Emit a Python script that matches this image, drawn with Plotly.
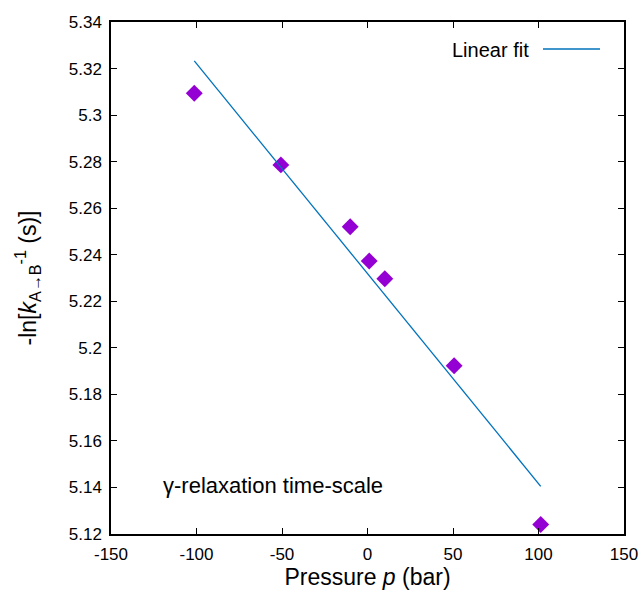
import plotly.graph_objects as go

# Data
pressure_bar = [-101.3, -50.66, -10.13, 1.013, 10.13, 50.66, 101.3]
neg_ln_k = [5.3094, 5.2786, 5.2520, 5.2373, 5.2297, 5.1923, 5.1241]

fit_x = [-101.3, 101.3]
fit_y = [5.3233, 5.1405]

x_ticks = [-150, -100, -50, 0, 50, 100, 150]
y_ticks = [5.12, 5.14, 5.16, 5.18, 5.2, 5.22, 5.24, 5.26, 5.28, 5.3, 5.32, 5.34]

FONT = "Liberation Sans, Arial, Helvetica, sans-serif"

# plot area in pixels (from reference)
L, R, T, B = 111, 624, 22, 534
W, H = R - L, B - T

fig = go.Figure()
fig.add_trace(go.Scatter(
    x=pressure_bar, y=neg_ln_k, mode="markers",
    marker=dict(symbol="diamond", size=13, color="#9400d3", line=dict(width=0)),
    showlegend=False,
))
fig.add_trace(go.Scatter(
    x=fit_x, y=fit_y, mode="lines",
    line=dict(color="#0072bd", width=1.3),
    showlegend=False,
))

# gnuplot-style key: text then line sample
fig.add_annotation(
    x=(531 - L) / W, y=(B - 50) / H, xref="x domain", yref="y domain",
    text="Linear fit", showarrow=False, xanchor="right", yanchor="middle",
    font=dict(size=20, color="black", family=FONT),
)
fig.add_shape(type="line", xref="x domain", yref="y domain",
              x0=(543 - L) / W, x1=(600 - L) / W,
              y0=(B - 49) / H, y1=(B - 49) / H,
              line=dict(color="#0072bd", width=1.3))

fig.add_annotation(
    x=(161 - L) / W, y=(B - 485) / H, xref="x domain", yref="y domain",
    text="γ-relaxation time-scale", showarrow=False, xanchor="left", yanchor="middle",
    font=dict(size=22, color="black", family=FONT),
)

axis_common = dict(
    showline=True, linecolor="black", linewidth=1.5, mirror="allticks",
    ticks="inside", ticklen=6, tickwidth=1, tickcolor="black",
    showgrid=False, zeroline=False, automargin=False,
    tickfont=dict(size=17, color="black", family=FONT),
)

fig.update_xaxes(
    range=[-150, 150], tickvals=x_ticks, ticktext=[str(v) for v in x_ticks],
    ticklabelstandoff=4,
    title=dict(text="Pressure <i>p</i> (bar)", font=dict(size=23, color="black", family=FONT),
               standoff=4),
    **axis_common,
)
fig.update_yaxes(
    range=[5.12, 5.34], tickvals=y_ticks, ticktext=[f"{v:g}" for v in y_ticks],
    ticklabelstandoff=4,
    title=dict(text="-ln[<i>k</i><sub>A→B</sub><sup>-1</sup> (s)]",
               font=dict(size=23, color="black", family=FONT), standoff=26),
    **axis_common,
)

fig.update_layout(
    width=644, height=593,
    margin=dict(l=L, r=644 - R, t=T, b=593 - B, pad=0, autoexpand=False),
    paper_bgcolor="white", plot_bgcolor="white",
    font=dict(family=FONT, color="black"),
)

fig.write_html(
    "out.html",
    config={"displayModeBar": False},
    post_script=(
        "document.body.style.margin='0';"
        "document.body.style.overflow='hidden';"
        "document.documentElement.style.overflow='hidden';"
    ),
)
